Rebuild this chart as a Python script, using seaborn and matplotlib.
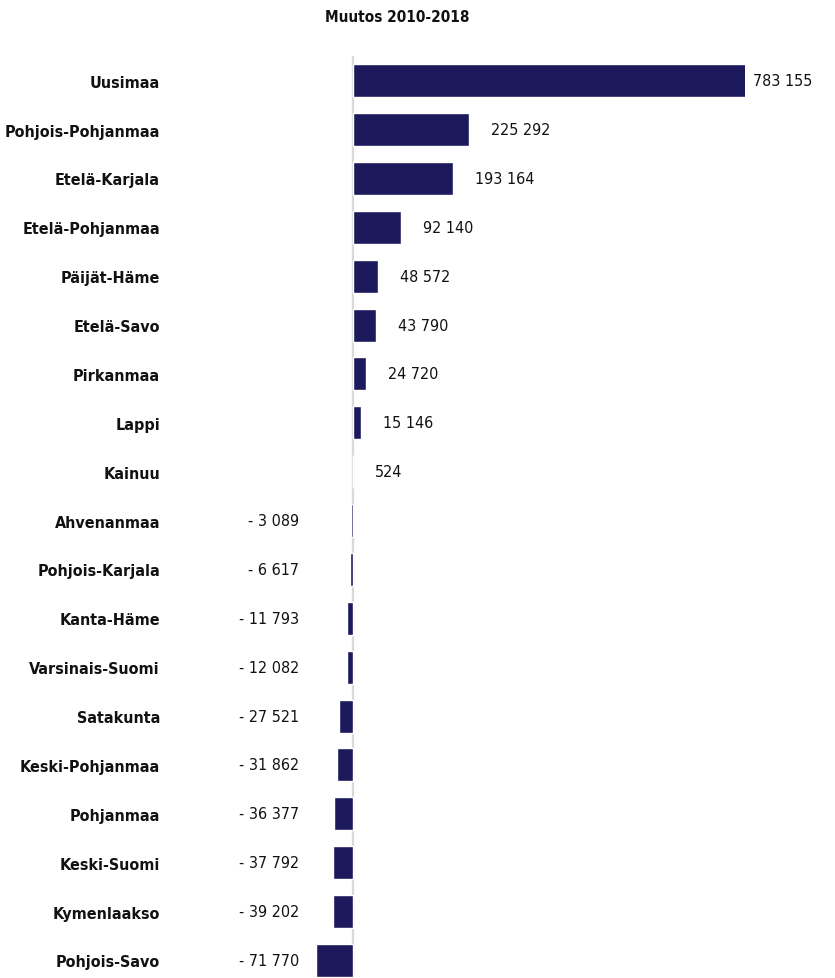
import matplotlib
matplotlib.use("Agg")
import matplotlib.pyplot as plt
from matplotlib import font_manager
import seaborn as sns
import pandas as pd

regions = ["Uusimaa", "Pohjois-Pohjanmaa", "Etelä-Karjala", "Etelä-Pohjanmaa",
           "Päijät-Häme", "Etelä-Savo", "Pirkanmaa", "Lappi", "Kainuu",
           "Ahvenanmaa", "Pohjois-Karjala", "Kanta-Häme", "Varsinais-Suomi",
           "Satakunta", "Keski-Pohjanmaa", "Pohjanmaa", "Keski-Suomi",
           "Kymenlaakso", "Pohjois-Savo"]
values = [783155, 225292, 193164, 92140, 48572, 43790, 24720, 15146, 524,
          -3089, -6617, -11793, -12082, -27521, -31862, -36377, -37792,
          -39202, -71770]
title = "Muutos 2010-2018"

BAR = "#1c1a5c"

sns.set_style("white")
names = {f.name for f in font_manager.fontManager.ttflist}
if "Liberation Sans Narrow" in names:
    plt.rcParams["font.family"] = ["Liberation Sans Narrow", "DejaVu Sans"]
    LBL, VAL, TTL = 13.5, 14, 14
else:
    plt.rcParams["font.family"] = ["DejaVu Sans"]
    plt.rcParams["font.stretch"] = "condensed"
    LBL, VAL, TTL = 11.5, 11.5, 11

df = pd.DataFrame({"region": regions, "value": values})

W, H = 835, 979
fig = plt.figure(figsize=(W / 100, H / 100), dpi=100)
ax_left, ax_right, ax_top = 170, 745, 57.3
ax = fig.add_axes([ax_left / W, 0, (ax_right - ax_left) / W, (H - ax_top) / H])

sns.barplot(data=df, x="value", y="region", orient="h", color=BAR,
            width=0.675, saturation=1, ax=ax, zorder=3)

xmin, xmax = -353965, 758220
ax.set_xlim(xmin, xmax)
ax.set_ylim(18.36, -0.5)
ax.axvline(0, color="#d9d9d9", lw=1.6, zorder=2)

for s in ax.spines.values():
    s.set_visible(False)
ax.set_xticks([])
ax.set_xlabel("")
ax.set_ylabel("")
ax.tick_params(axis="y", length=0, pad=7.2)
for t in ax.get_yticklabels():
    t.set_fontweight("bold")
    t.set_fontsize(LBL)
    t.set_color("#111111")

def fmt(v):
    s = f"{abs(v):,}".replace(",", " ")
    return ("- " + s) if v < 0 else s

for i, v in enumerate(values):
    if v >= 0:
        x = min(v, xmax)
        off = 22 if v <= xmax else 8
        ax.annotate(fmt(v), (x, i), xytext=(off, 0), textcoords="offset pixels",
                    ha="left", va="center", fontsize=VAL, color="#111111",
                    annotation_clip=False)
    else:
        ax.annotate(fmt(v), (0, i), xytext=(-54, 0), textcoords="offset pixels",
                    ha="right", va="center", fontsize=VAL, color="#111111",
                    annotation_clip=False)

fig.text(397 / W, 1 - 17 / H, title, ha="center", va="center",
         fontsize=TTL, fontweight="bold", color="#111111")

fig.savefig("out.png", dpi=100)
